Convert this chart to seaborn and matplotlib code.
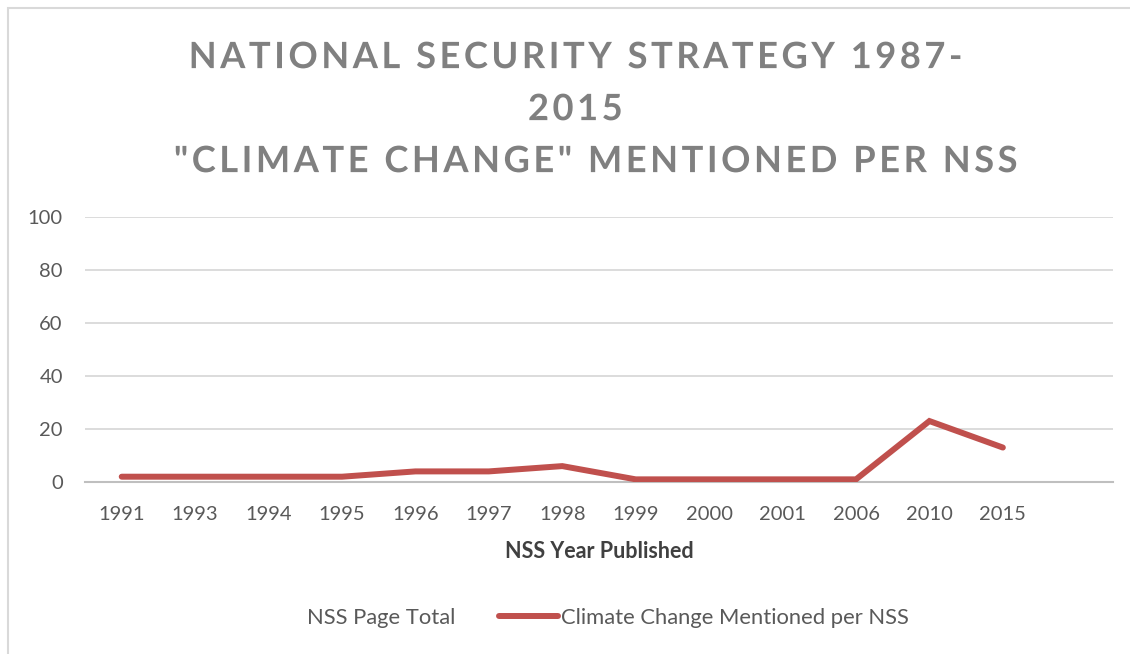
import matplotlib
matplotlib.use("Agg")
import matplotlib.pyplot as plt
from matplotlib.lines import Line2D
from matplotlib.patches import Rectangle, PathPatch
from matplotlib.path import Path
from matplotlib.textpath import TextPath
from matplotlib.font_manager import FontProperties
from matplotlib.transforms import Affine2D, IdentityTransform
import seaborn as sns
import pandas as pd

years = ["1991", "1993", "1994", "1995", "1996", "1997", "1998",
         "1999", "2000", "2001", "2006", "2010", "2015"]
climate_mentions = [2, 2, 2, 2, 4, 4, 6, 1, 1, 1, 1, 23, 13]
y_ticks = [0, 20, 40, 60, 80, 100]

title_lines = ["NATIONAL SECURITY STRATEGY 1987-", "2015",
               "\"CLIMATE CHANGE\" MENTIONED PER NSS"]

df = pd.DataFrame({"year": years, "mentions": climate_mentions})

sns.set_theme(style="white")
plt.rcParams["font.family"] = ["Lato", "DejaVu Sans"]

W, H = 1130, 654
fig = plt.figure(figsize=(W / 100, H / 100), dpi=100)
ax = fig.add_axes([85 / W, 1 - 482 / H, (1113 - 85) / W, (482 - 217) / H])

red = "#C0504D"
sns.lineplot(data=df, x="year", y="mentions", ax=ax, color=red,
             linewidth=4.3, sort=False, solid_capstyle="round",
             solid_joinstyle="miter")

ax.set_xlim(-0.5, len(years) + 0.5)
ax.set_ylim(0, 100)
ax.set_yticks(y_ticks)
ax.yaxis.grid(True, color="#D9D9D9", linewidth=1.3)
ax.set_axisbelow(True)
for s in ["top", "right", "left"]:
    ax.spines[s].set_visible(False)
ax.spines["bottom"].set_color("#BFBFBF")
ax.spines["bottom"].set_linewidth(1.5)
ax.spines["bottom"].set_zorder(1)
ax.tick_params(axis="both", length=0, labelsize=14.5, labelcolor="#595959")
ax.tick_params(axis="x", pad=17)
ax.tick_params(axis="y", pad=16)
ax.set_ylabel("")
ax.set_xlabel("NSS Year Published", fontsize=15.5, fontweight="bold",
              color="#404040", labelpad=13)


def tracked_title(text, cx, cy, size_px, tracking_px, color):
    """Draw a centred line of text with extra letter spacing (pixel units)."""
    fp = FontProperties(family="Lato", weight="bold")
    ref = TextPath((0, 0), "|", size=size_px, prop=fp).get_extents().x1
    paths = []
    for i, ch in enumerate(text):
        if ch == " ":
            continue
        adv = 0.0
        if i:
            adv = TextPath((0, 0), text[:i] + "|", size=size_px,
                           prop=fp).get_extents().x1 - ref
        paths.append(TextPath((adv + i * tracking_px, 0), ch, size=size_px, prop=fp))
    full = Path.make_compound_path(*paths)
    ext = full.get_extents()
    cap = TextPath((0, 0), "H", size=size_px, prop=fp).get_extents().height
    dx = cx - (ext.x0 + ext.x1) / 2
    dy = cy - cap / 2
    patch = PathPatch(full, transform=Affine2D().translate(dx, dy) + IdentityTransform(),
                      facecolor=color, edgecolor="none", lw=0)
    fig.patches.append(patch)


title_x = [576, 575, 596]
title_y = [55, 107, 159]
for line, tx, ty in zip(title_lines, title_x, title_y):
    tracked_title(line, tx, H - ty, 36.3, 3.5, "#808080")

handles = [Line2D([], [], color="white", linewidth=4.3),
           Line2D([], [], color=red, linewidth=4.3)]
labels = ["NSS Page Total", "Climate Change Mentioned per NSS"]
fig.legend(handles, labels, loc="center", bbox_to_anchor=(577 / W, 1 - 618 / H),
           ncol=2, frameon=False, fontsize=15.8, labelcolor="#595959",
           handlelength=2.7, handletextpad=0.1, columnspacing=2.0)

# chart-area border
fig.patches.append(Rectangle((8 / W, -0.1), 1.2, 1 - 8 / H + 0.1,
                             transform=fig.transFigure, fill=False,
                             edgecolor="#D9D9D9", linewidth=1.5))

fig.savefig("out.png", dpi=100)
